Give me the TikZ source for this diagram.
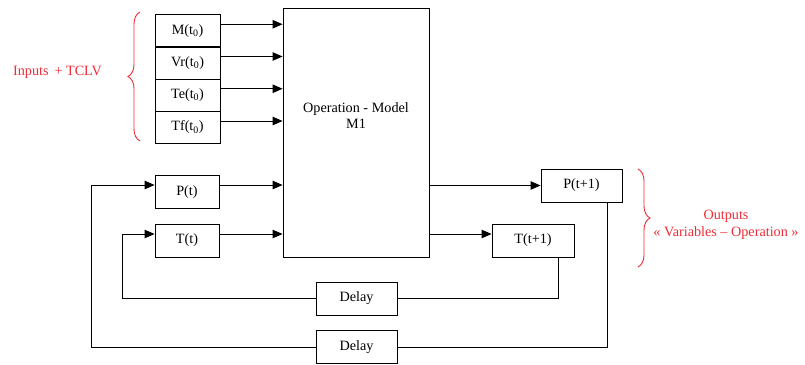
\documentclass[tikz,border=0pt]{standalone}
\usepackage{fontspec}
\setmainfont{Liberation Serif}
\usetikzlibrary{arrows.meta,decorations.pathreplacing,calc}
\definecolor{annot}{RGB}{236,45,55}

\begin{document}
\begin{tikzpicture}[x=1pt,y=-1pt,
  txt/.style={font=\fontsize{14.2}{16.5}\selectfont},
  box/.style={draw,line width=0.9pt,inner sep=0pt,txt},
  inbox/.style={box,minimum width=65pt,minimum height=32.5pt},
  outbox/.style={box,minimum width=81pt,minimum height=33pt},
  wire/.style={line width=0.9pt},
  arr/.style={wire,-{Triangle[length=10pt,width=8.5pt]}},
  brace/.style={draw=annot,line width=0.9pt,decorate,
    decoration={brace,amplitude=12pt,aspect=0.5}},
  note/.style={txt,text=annot,align=center}
]
\useasboundingbox (0,0) rectangle (805,364);

% input variables at time t0
\node[inbox] (m)  at (187.5,30.75)  {M(t\textsubscript{0})};
\node[inbox] (vr) at (187.5,63)     {Vr(t\textsubscript{0})};
\node[inbox] (te) at (187.5,95.25)  {Te(t\textsubscript{0})};
\node[inbox] (tf) at (187.5,127.5)  {Tf(t\textsubscript{0})};

% state variables at time t
\node[box,minimum width=64pt,minimum height=32.5pt] (pt) at (187,192) {P(t)};
\node[box,minimum width=64pt,minimum height=33pt]   (tt) at (187,240.5) {T(t)};

% model block and its title
\node[box,minimum width=146pt,minimum height=249pt] (main) at (356,132.5) {};
\node[txt,align=center,inner sep=0pt] (maintitle) at ([yshift=17pt]main.center)
  {Operation - Model\\M1};

% outputs at time t+1
\node[outbox] (pt1) at (581.5,185.5) {P(t+1)};
\node[box,minimum width=82pt,minimum height=33pt] (tt1) at (533,240.5) {T(t+1)};

% delay elements in the feedback loops
\node[outbox] (d1) at (356.5,298.5) {Delay};
\node[outbox] (d2) at (356.5,347)   {Delay};

% connection points
\foreach \n in {m,vr,te,tf}
  \coordinate (\n o) at ([yshift=6.5pt]\n.east);
\coordinate (pto)  at ([yshift=7pt]pt.east);
\coordinate (pti)  at ([yshift=7pt]pt.west);
\coordinate (tto)  at ([yshift=6.5pt]tt.east);
\coordinate (tti)  at ([yshift=6.5pt]tt.west);
\coordinate (tt1i) at ([yshift=6.5pt]tt1.west);
\coordinate (tt1d) at ([xshift=25pt]tt1.south);
\coordinate (pt1d) at ([xshift=25.5pt]pt1.south);
\coordinate (loopT) at (122.7,0);
\coordinate (loopP) at (91.7,0);

% inputs into the model
\foreach \n in {m,vr,te,tf}
  \draw[arr] (\n o) -- (\n o -| main.west);
\draw[arr] (pto) -- (pto -| main.west);
\draw[arr] (tto) -- (tto -| main.west);

% model outputs
\draw[arr] (main.east |- pt1.west) -- (pt1.west);
\draw[arr] (tt1i -| main.east) -- (tt1i);

% feedback of T
\draw[wire] (tt1d) |- (d1.east);
\draw[arr] (d1.west) -- (d1.west -| loopT) |- (tti);

% feedback of P
\draw[wire] (pt1d) |- (d2.east);
\draw[arr] (d2.west) -- (d2.west -| loopP) |- (pti);

% annotations
\draw[brace] (140,141) -- (140,12);
\node[note] (inlab) at (57.5,72) {Inputs \,+ TCLV};
\draw[brace] (638,169) -- (638,267);
\node[note] (outlab) at (726,225) {Outputs\\«~Variables – Operation~»};
\end{tikzpicture}
\end{document}
